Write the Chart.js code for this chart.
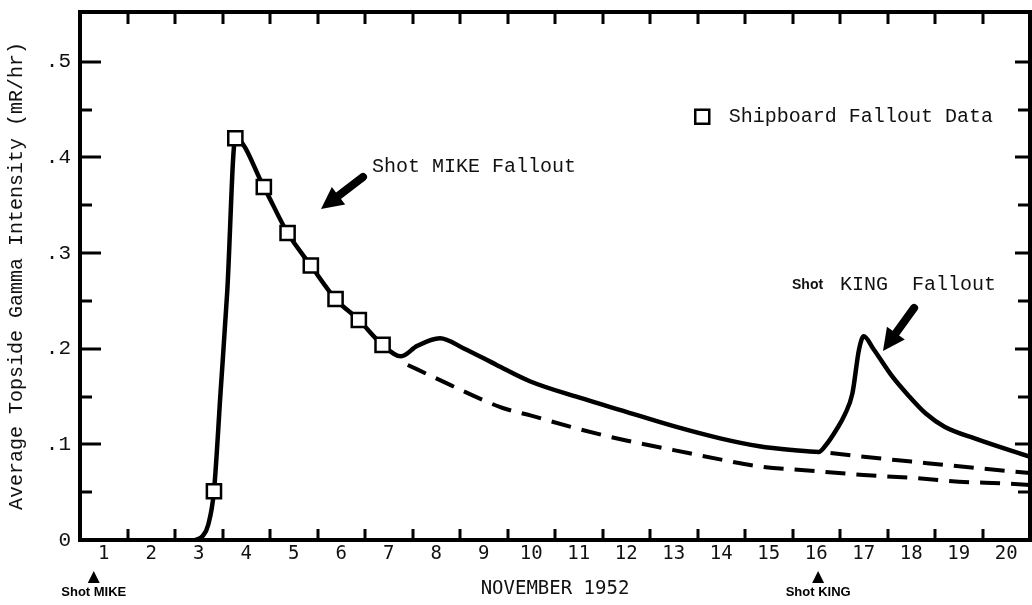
<!DOCTYPE html>
<html>
<head>
<meta charset="utf-8">
<script src="https://cdn.jsdelivr.net/npm/chart.js@4.4.1/dist/chart.umd.min.js"></script>
<style>
  html, body { margin: 0; padding: 0; background: #fff; }
</style>
</head>
<body>
<canvas id="chart" width="1032" height="605"></canvas>
<script>
// axis ticks
const days = [1, 2, 3, 4, 5, 6, 7, 8, 9, 10, 11, 12, 13, 14, 15, 16, 17, 18, 19, 20];
const dayLabels = ['1', '2', '3', '4', '5', '6', '7', '8', '9', '10', '11', '12', '13', '14', '15', '16', '17', '18', '19', '20'];
const yTicks = [0, 0.1, 0.2, 0.3, 0.4, 0.5];
const yTickLabels = ['0', '.1', '.2', '.3', '.4', '.5'];

// shipboard measurements (squares)
const shipboardDays = [3.32, 3.77, 4.37, 4.87, 5.36, 5.88, 6.37, 6.87];
const shipboardValues = [0.051, 0.420, 0.369, 0.321, 0.287, 0.252, 0.230, 0.204];

// solid curve
const observedDays = [2.93, 3.08, 3.2, 3.32, 3.46, 3.6, 3.77, 4.37, 4.87, 5.36, 5.88, 6.37, 6.87, 7.26, 7.6, 8.08, 8.57, 9.27, 9.97,
  11, 12, 13, 14, 14.8, 15.5, 16.05, 16.2, 16.42, 16.6, 16.76, 16.9, 17.0, 17.2, 17.6, 17.96, 18.3, 18.7, 19.35, 20.5];
const observedValues = [0, 0.004, 0.016, 0.051, 0.155, 0.26, 0.42, 0.369, 0.321, 0.287, 0.252, 0.230, 0.204, 0.192, 0.203, 0.211, 0.2005, 0.183, 0.166,
  0.149, 0.134, 0.119, 0.106, 0.098, 0.094, 0.092, 0.099, 0.115, 0.131, 0.153, 0.199, 0.213, 0.200, 0.171, 0.150, 0.1325, 0.1185, 0.106, 0.087];

// dashed: MIKE decay without the later bump
const mikeDecayDays = [7.4, 8, 9, 9.4, 10, 11, 12, 13, 14, 14.8, 16, 17, 18, 19, 20, 20.5];
const mikeDecayValues = [0.183, 0.169, 0.146, 0.138, 0.130, 0.116, 0.104, 0.094, 0.084, 0.077, 0.072, 0.068, 0.065, 0.061, 0.059, 0.0575];

// dashed: background before KING fallout
const preKingDays = [16.3, 17, 18, 19, 20.5];
const preKingValues = [0.091, 0.087, 0.082, 0.077, 0.070];

const shotDays = [0.79, 16.04];
const shotLabels = ['Shot MIKE', 'Shot KING'];

const toPoints = (xs, ys) => xs.map((x, i) => ({ x: x, y: ys[i] }));

const mono = 'Liberation Mono';

// keep the plot box fixed, no extra room for edge labels
const noPad = s => { s.paddingTop = 0; s.paddingBottom = 0; s.paddingLeft = 0; s.paddingRight = 0; };

const frame = {
  id: 'frame',
  afterDraw(chart) {
    const { ctx, chartArea: a, scales: { x, y } } = chart;
    ctx.save();
    ctx.strokeStyle = '#000';
    ctx.fillStyle = '#000';
    ctx.lineWidth = 4;
    ctx.strokeRect(a.left, a.top, a.right - a.left, a.bottom - a.top);

    // inward tick marks
    ctx.lineWidth = 3;
    ctx.beginPath();
    for (let v = 0.05; v < 0.54; v += 0.05) {
      const py = Math.round(y.getPixelForValue(v));
      const major = Math.round(v * 100) % 10 === 0;
      ctx.moveTo(a.left, py); ctx.lineTo(a.left + (major ? 21 : 12), py);
      ctx.moveTo(a.right, py); ctx.lineTo(a.right - (major ? 15 : 12), py);
    }
    days.slice(0, -1).forEach(d => {
      const px = Math.round(x.getPixelForValue(d + 0.5));
      ctx.moveTo(px, a.bottom); ctx.lineTo(px, a.bottom - 11);
      ctx.moveTo(px, a.top); ctx.lineTo(px, a.top + 12);
    });
    ctx.stroke();

    // legend
    const lx = x.getPixelForValue(13.6), ly = y.getPixelForValue(0.4425);
    ctx.lineWidth = 2.5;
    ctx.fillStyle = '#fff';
    ctx.fillRect(lx - 7, ly - 7, 14, 14);
    ctx.strokeRect(lx - 7, ly - 7, 14, 14);
    ctx.fillStyle = '#111';
    ctx.font = '20px ' + mono;
    ctx.textBaseline = 'middle';
    ctx.textAlign = 'left';
    ctx.fillText(chart.data.datasets[0].label, x.getPixelForValue(14.16), ly);

    // annotations
    ctx.fillText('Shot MIKE Fallout', x.getPixelForValue(6.647), y.getPixelForValue(0.390));
    ctx.fillText('KING  Fallout', x.getPixelForValue(16.5), y.getPixelForValue(0.2666));
    ctx.font = 'bold 14px Liberation Sans';
    ctx.fillText('Shot', x.getPixelForValue(15.49), y.getPixelForValue(0.2666));

    const arrow = (x0, y0, x1, y1) => {
      const ang = Math.atan2(y1 - y0, x1 - x0);
      const head = 22, half = 11;
      const bx = x1 - head * Math.cos(ang), by = y1 - head * Math.sin(ang);
      ctx.lineWidth = 8;
      ctx.lineCap = 'round';
      ctx.beginPath(); ctx.moveTo(x0, y0); ctx.lineTo(bx, by); ctx.stroke();
      ctx.beginPath();
      ctx.moveTo(x1, y1);
      ctx.lineTo(bx + half * Math.sin(ang), by - half * Math.cos(ang));
      ctx.lineTo(bx - half * Math.sin(ang), by + half * Math.cos(ang));
      ctx.closePath();
      ctx.fillStyle = '#000';
      ctx.fill();
    };
    arrow(x.getPixelForValue(6.458), y.getPixelForValue(0.3795), x.getPixelForValue(5.574), y.getPixelForValue(0.346));
    arrow(x.getPixelForValue(18.06), y.getPixelForValue(0.2426), x.getPixelForValue(17.405), y.getPixelForValue(0.1976));

    // shot markers under the axis
    ctx.font = 'bold 13px Liberation Sans';
    ctx.textAlign = 'center';
    shotDays.forEach((d, i) => {
      const px = x.getPixelForValue(d);
      ctx.beginPath();
      ctx.moveTo(px, 571); ctx.lineTo(px + 6, 583); ctx.lineTo(px - 6, 583);
      ctx.closePath();
      ctx.fill();
      ctx.fillText(shotLabels[i], px, 592);
    });
    ctx.restore();
  }
};

new Chart(document.getElementById('chart'), {
  type: 'line',
  data: {
    datasets: [{
      label: 'Shipboard Fallout Data',
      data: toPoints(shipboardDays, shipboardValues),
      showLine: false,
      pointStyle: 'rect',
      pointRadius: 10,
      pointBackgroundColor: '#fff',
      pointBorderColor: '#000',
      pointBorderWidth: 2.5
    }, {
      label: 'Observed',
      data: toPoints(observedDays, observedValues),
      borderColor: '#000',
      borderWidth: 4.5,
      pointRadius: 0,
      cubicInterpolationMode: 'monotone'
    }, {
      label: 'MIKE decay',
      data: toPoints(mikeDecayDays, mikeDecayValues),
      borderColor: '#000',
      borderWidth: 4,
      borderDash: [20, 11],
      pointRadius: 0,
      cubicInterpolationMode: 'monotone'
    }, {
      label: 'Pre-KING',
      data: toPoints(preKingDays, preKingValues),
      borderColor: '#000',
      borderWidth: 4,
      borderDash: [20, 11],
      pointRadius: 0,
      cubicInterpolationMode: 'monotone'
    }]
  },
  options: {
    responsive: false,
    animation: false,
    layout: { autoPadding: false, padding: { top: 12, right: 2, left: 0, bottom: 0 } },
    plugins: { legend: { display: false }, tooltip: { enabled: false } },
    scales: {
      x: {
        type: 'linear',
        min: 0.5,
        max: 20.5,
        afterBuildTicks: s => { s.ticks = days.map(v => ({ value: v })); },
        afterFit: s => { s.height = 65; noPad(s); },
        ticks: {
          callback: (v, i) => dayLabels[i],
          autoSkip: false,
          maxRotation: 0,
          padding: 3,
          color: '#111',
          font: { family: 'DejaVu Sans Mono', size: 19 }
        },
        grid: { display: false, drawTicks: false },
        border: { display: false },
        title: {
          display: true,
          text: 'NOVEMBER 1952',
          color: '#111',
          font: { family: 'DejaVu Sans Mono', size: 19 },
          padding: { top: 0, bottom: 5 }
        }
      },
      y: {
        min: 0,
        max: 0.552,
        afterBuildTicks: s => { s.ticks = yTicks.map(v => ({ value: v })); },
        afterFit: s => { s.width = 80; noPad(s); },
        ticks: {
          callback: (v, i) => yTickLabels[i],
          padding: 9,
          color: '#111',
          font: { family: mono, size: 21 }
        },
        grid: { display: false, drawTicks: false },
        border: { display: false },
        title: {
          display: true,
          text: 'Average Topside Gamma Intensity (mR/hr)',
          color: '#111',
          font: { family: mono, size: 20 },
          padding: { top: 5, bottom: 0 }
        }
      }
    }
  },
  plugins: [frame]
});
</script>
</body>
</html>
